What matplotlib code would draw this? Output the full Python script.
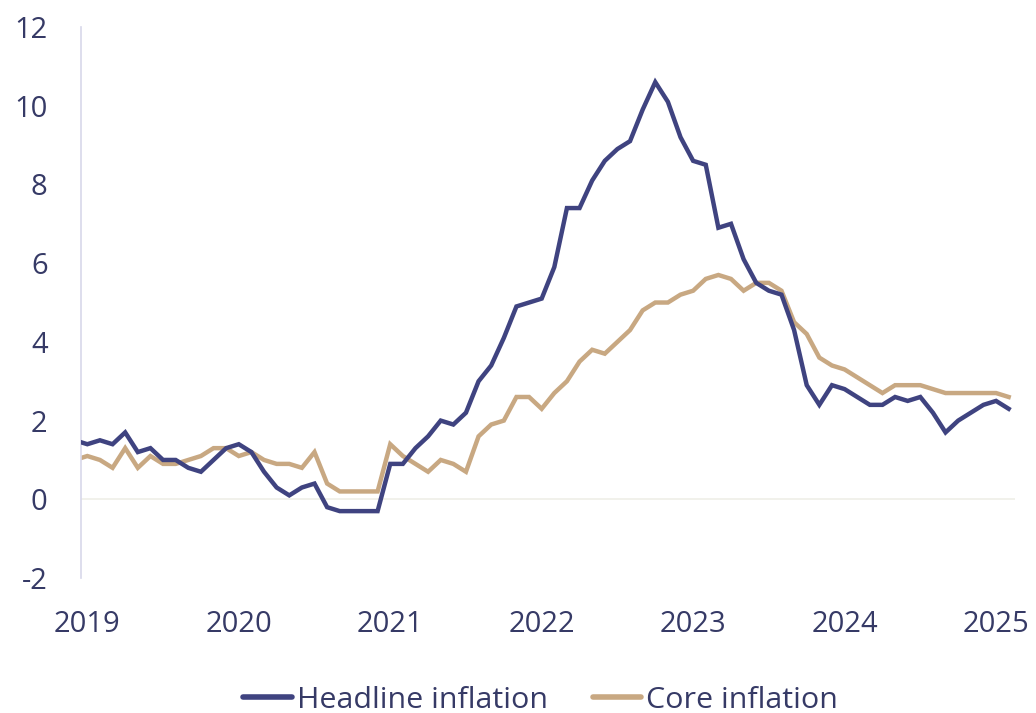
import matplotlib
matplotlib.use("Agg")
import matplotlib.pyplot as plt

plt.rcParams['font.family'] = ['Open Sans', 'DejaVu Sans']

# monthly values, Dec 2018 .. Feb 2025 (year-on-year %, euro area)
headline = [1.5,
            1.4, 1.5, 1.4, 1.7, 1.2, 1.3, 1.0, 1.0, 0.8, 0.7, 1.0, 1.3,
            1.4, 1.2, 0.7, 0.3, 0.1, 0.3, 0.4, -0.2, -0.3, -0.3, -0.3, -0.3,
            0.9, 0.9, 1.3, 1.6, 2.0, 1.9, 2.2, 3.0, 3.4, 4.1, 4.9, 5.0,
            5.1, 5.9, 7.4, 7.4, 8.1, 8.6, 8.9, 9.1, 9.9, 10.6, 10.1, 9.2,
            8.6, 8.5, 6.9, 7.0, 6.1, 5.5, 5.3, 5.2, 4.3, 2.9, 2.4, 2.9,
            2.8, 2.6, 2.4, 2.4, 2.6, 2.5, 2.6, 2.2, 1.7, 2.0, 2.2, 2.4,
            2.5, 2.3]
core = [1.0,
        1.1, 1.0, 0.8, 1.3, 0.8, 1.1, 0.9, 0.9, 1.0, 1.1, 1.3, 1.3,
        1.1, 1.2, 1.0, 0.9, 0.9, 0.8, 1.2, 0.4, 0.2, 0.2, 0.2, 0.2,
        1.4, 1.1, 0.9, 0.7, 1.0, 0.9, 0.7, 1.6, 1.9, 2.0, 2.6, 2.6,
        2.3, 2.7, 3.0, 3.5, 3.8, 3.7, 4.0, 4.3, 4.8, 5.0, 5.0, 5.2,
        5.3, 5.6, 5.7, 5.6, 5.3, 5.5, 5.5, 5.3, 4.5, 4.2, 3.6, 3.4,
        3.3, 3.1, 2.9, 2.7, 2.9, 2.9, 2.9, 2.8, 2.7, 2.7, 2.7, 2.7,
        2.7, 2.6]
years = ['2019', '2020', '2021', '2022', '2023', '2024', '2025']
yticks = [-2, 0, 2, 4, 6, 8, 10, 12]

navy = '#3f4380'
tan = '#c8a882'
txt = '#363a66'

months = list(range(-1, len(headline) - 1))  # 0 = Jan 2019

fig = plt.figure(figsize=(10.36, 7.13), dpi=100)
ax = fig.add_axes([0.0782, 0.1893, 0.9015, 0.7728])

ax.plot(months, headline, color=navy, lw=3.2, label='Headline inflation',
        solid_joinstyle='miter', zorder=3)
ax.plot(months, core, color=tan, lw=3.2, label='Core inflation',
        solid_joinstyle='miter', zorder=2)
ax.axhline(0, color='#efefe8', lw=1.2, zorder=1)

ax.set_xlim(-0.5, 73.5)
ax.set_ylim(-2, 12)
ax.set_xticks([12 * i for i in range(len(years))])
ax.set_xticklabels(years)
ax.set_yticks(yticks)
ax.set_yticklabels([str(v) for v in yticks])
ax.tick_params(axis='both', length=0, labelsize=21, colors=txt)
ax.tick_params(axis='x', pad=23)
ax.tick_params(axis='y', pad=24)

for s in ['top', 'right', 'bottom']:
    ax.spines[s].set_visible(False)
ax.spines['left'].set_color('#d8d8ea')
ax.spines['left'].set_linewidth(1.2)

leg = ax.legend(loc='center', bbox_to_anchor=(0.492, -0.222), ncol=2, frameon=False,
                fontsize=21.9, handlelength=1.6, handletextpad=0.16,
                columnspacing=1.48, labelcolor=txt)
for h in leg.get_lines():
    h.set_linewidth(4.0)
    h.set_solid_capstyle('round')

fig.savefig('out.png', dpi=100, facecolor='white')
